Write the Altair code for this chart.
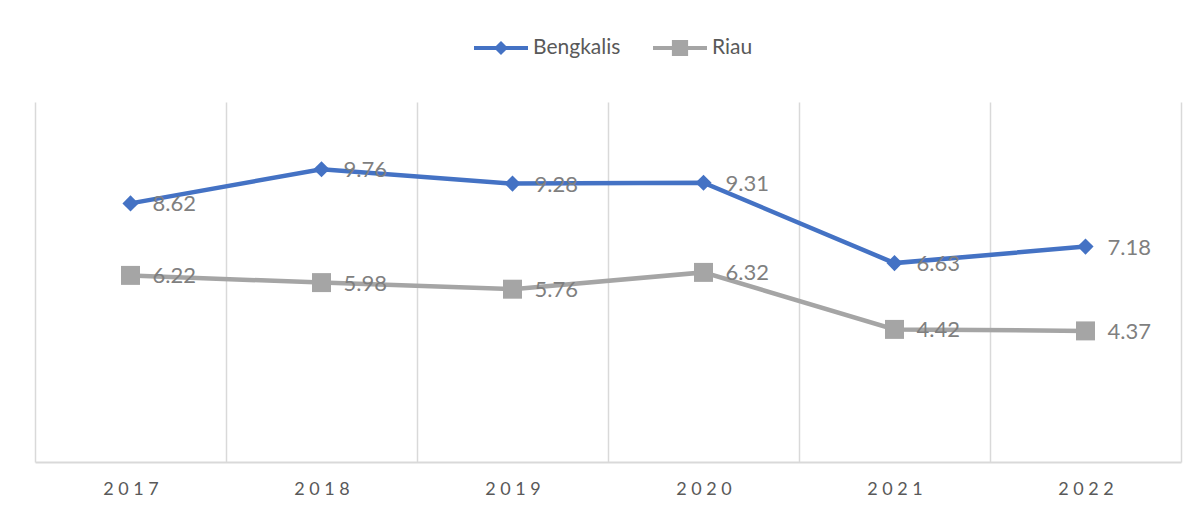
import altair as alt
import pandas as pd

years = ["2017", "2018", "2019", "2020", "2021", "2022"]
series_names = ["Bengkalis", "Riau"]
bengkalis = [8.62, 9.76, 9.28, 9.31, 6.63, 7.18]
riau = [6.22, 5.98, 5.76, 6.32, 4.42, 4.37]

rows = []
for name, vals in zip(series_names, [bengkalis, riau]):
    for y, v in zip(years, vals):
        rows.append({"year": y, "series": name, "value": v, "label": f"{v:.2f}"})
df = pd.DataFrame(rows)

colors = ["#4472C4", "#A5A5A5"]
FONT = "Lato"

x_enc = alt.X(
    "year:N",
    sort=years,
    scale=alt.Scale(type="band", paddingInner=0, paddingOuter=0),
    axis=alt.Axis(
        title=None,
        tickBand="extent",
        grid=True,
        gridColor="#D9D9D9",
        gridWidth=1.5,
        ticks=False,
        domainColor="#D9D9D9",
        domainWidth=2,
        labelFont=FONT,
        labelFontSize=18,
        labelColor="#595959",
        labelPadding=18,
        labelAngle=0,
        labelExpr="join(split(datum.label, ''), ' ')",
    ),
)
y_enc = alt.Y("value:Q", scale=alt.Scale(domain=[0, 12], nice=False, zero=True), axis=None)
color_enc = alt.Color(
    "series:N",
    scale=alt.Scale(domain=series_names, range=colors),
    legend=None,
)

base = alt.Chart(df)

lines = base.mark_line(strokeWidth=4.5).encode(x=x_enc, y=y_enc, color=color_enc)

pts_b = base.transform_filter(alt.datum.series == "Bengkalis").mark_point(
    shape="diamond", filled=True, size=260, opacity=1, color=colors[0]
).encode(x=x_enc, y=y_enc)
pts_r = base.transform_filter(alt.datum.series == "Riau").mark_point(
    shape="square", filled=True, size=360, opacity=1, color=colors[1]
).encode(x=x_enc, y=y_enc)

labels = base.mark_text(
    align="left", baseline="middle", dx=22, dy=1, font=FONT, fontSize=22, color="#7F7F7F"
).encode(x=x_enc, y=y_enc, text="label:N")

legend_paths = [
    "M-1,-0.075H1V0.075H-1Z M0,-0.26L0.26,0L0,0.26L-0.26,0Z",
    "M-1,-0.075H1V0.075H-1Z M-0.3,-0.3H0.3V0.3H-0.3Z",
]
leg = alt.Legend(
    title=None,
    orient="none",
    direction="horizontal",
    legendX=439,
    legendY=-81,
    symbolSize=2916,
    symbolOpacity=1,
    symbolStrokeWidth=0,
    labelFont=FONT,
    labelFontSize=21,
    labelColor="#595959",
    labelOffset=5,
    columnPadding=32,
    padding=0,
)
legend_layer = base.mark_point(filled=True, opacity=0).encode(
    x=x_enc,
    y=y_enc,
    color=alt.Color("series:N", scale=alt.Scale(domain=series_names, range=colors), legend=leg),
    shape=alt.Shape("series:N", scale=alt.Scale(domain=series_names, range=legend_paths), legend=leg),
)

chart = (
    alt.layer(lines, pts_b, pts_r, labels, legend_layer)
    .resolve_scale(color="independent", shape="independent")
    .properties(
        width=1146,
        height=360,
        autosize=alt.AutoSizeParams(type="none"),
        padding={"left": 27, "top": 94, "right": 11, "bottom": 41},
        background="white",
    )
    .configure_view(strokeWidth=0)
)

chart.save("out.html", embed_options={"renderer": "svg", "actions": False})
